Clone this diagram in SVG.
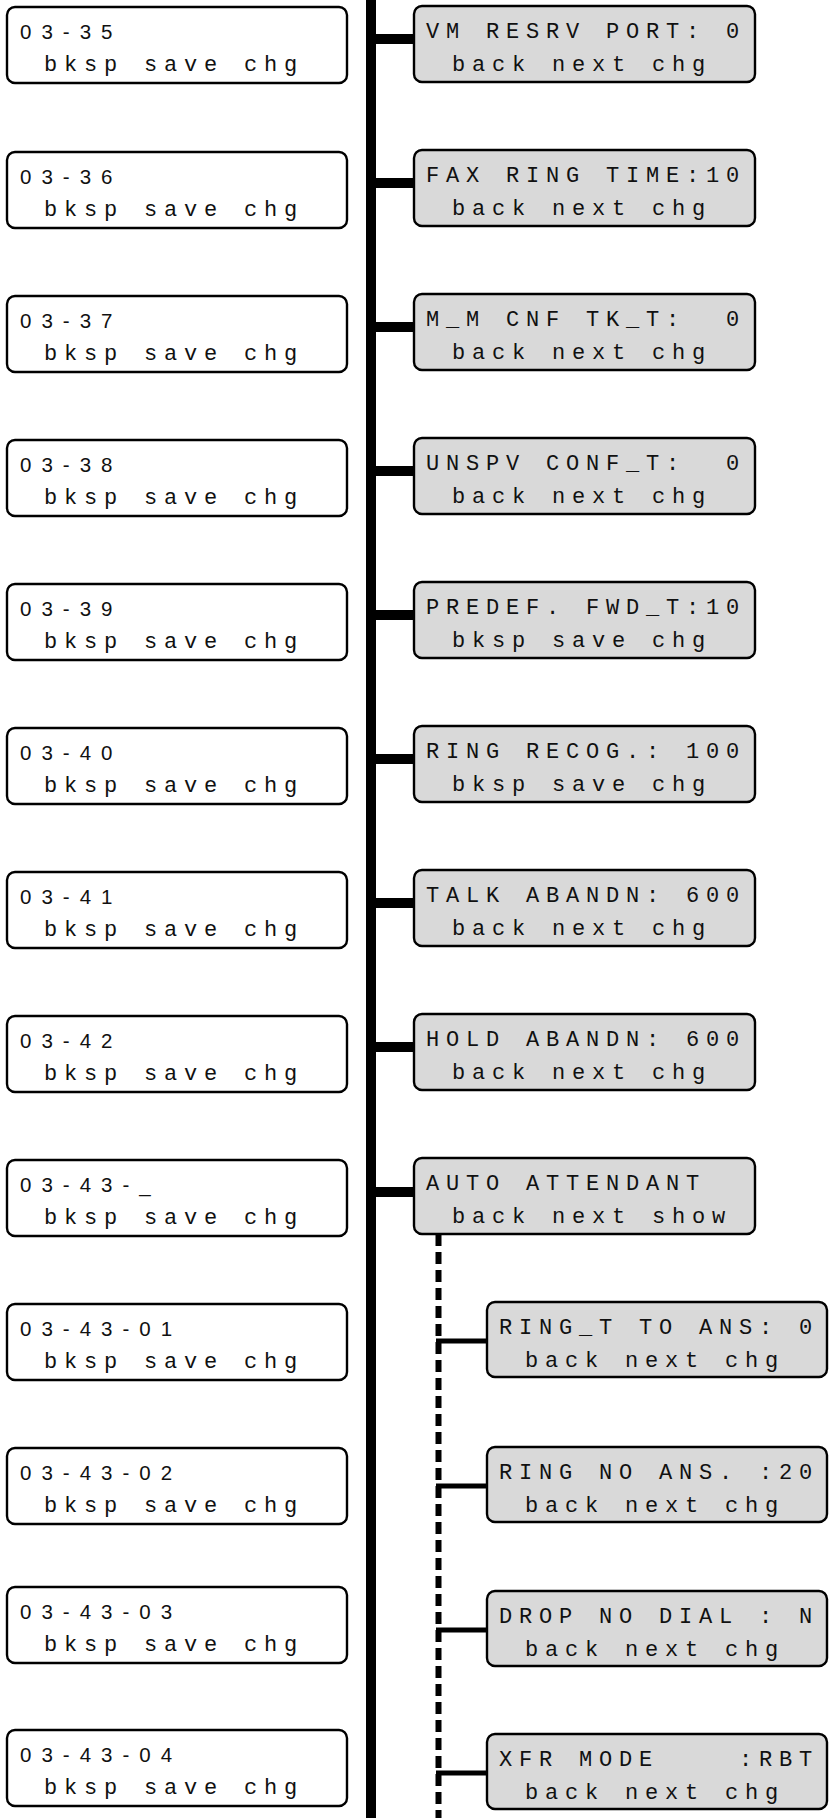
<svg xmlns="http://www.w3.org/2000/svg" width="835" height="1818" viewBox="0 0 835 1818">
<style>
.bg{fill:#ffffff}
.lbox{fill:#ffffff;stroke:#000;stroke-width:2.4}
.rbox{fill:#d9d9d9;stroke:#000;stroke-width:2.4}
.code{font-family:"Liberation Sans",Arial,sans-serif;font-size:20.5px;letter-spacing:10px;fill:#111}
.mono{font-family:"Courier New","Liberation Mono",monospace;font-size:22px;letter-spacing:6.8px;fill:#111;white-space:pre}
.main{stroke:#000;stroke-width:10;fill:none}
.stub{stroke:#000;stroke-width:10;fill:none}
.dash{stroke:#000;stroke-width:6;stroke-dasharray:12 6;fill:none}
.sub{stroke:#000;stroke-width:5;fill:none}
</style>
<rect class="bg" x="0" y="0" width="835" height="1818"/>
<g id="connectors">
<line class="main" x1="371" y1="0" x2="371" y2="1818"/>
<line class="stub" x1="371" y1="39" x2="414" y2="39"/>
<line class="stub" x1="371" y1="183" x2="414" y2="183"/>
<line class="stub" x1="371" y1="327" x2="414" y2="327"/>
<line class="stub" x1="371" y1="471" x2="414" y2="471"/>
<line class="stub" x1="371" y1="615" x2="414" y2="615"/>
<line class="stub" x1="371" y1="759" x2="414" y2="759"/>
<line class="stub" x1="371" y1="903" x2="414" y2="903"/>
<line class="stub" x1="371" y1="1047" x2="414" y2="1047"/>
<line class="stub" x1="371" y1="1192" x2="414" y2="1192"/>
<line class="dash" x1="438.5" y1="1234" x2="438.5" y2="1818"/>
<line class="sub" x1="436" y1="1341" x2="487" y2="1341"/>
<line class="sub" x1="436" y1="1486" x2="487" y2="1486"/>
<line class="sub" x1="436" y1="1630" x2="487" y2="1630"/>
<line class="sub" x1="436" y1="1773" x2="487" y2="1773"/>
</g>
<g id="n03-35"><rect class="lbox" x="7" y="7" width="340" height="76" rx="8"/><text class="code" x="20" y="39">03-35</text><text class="mono" x="44" y="71">bksp save chg</text></g>
<g id="n03-36"><rect class="lbox" x="7" y="152" width="340" height="76" rx="8"/><text class="code" x="20" y="184">03-36</text><text class="mono" x="44" y="216">bksp save chg</text></g>
<g id="n03-37"><rect class="lbox" x="7" y="296" width="340" height="76" rx="8"/><text class="code" x="20" y="328">03-37</text><text class="mono" x="44" y="360">bksp save chg</text></g>
<g id="n03-38"><rect class="lbox" x="7" y="440" width="340" height="76" rx="8"/><text class="code" x="20" y="472">03-38</text><text class="mono" x="44" y="504">bksp save chg</text></g>
<g id="n03-39"><rect class="lbox" x="7" y="584" width="340" height="76" rx="8"/><text class="code" x="20" y="616">03-39</text><text class="mono" x="44" y="648">bksp save chg</text></g>
<g id="n03-40"><rect class="lbox" x="7" y="728" width="340" height="76" rx="8"/><text class="code" x="20" y="760">03-40</text><text class="mono" x="44" y="792">bksp save chg</text></g>
<g id="n03-41"><rect class="lbox" x="7" y="872" width="340" height="76" rx="8"/><text class="code" x="20" y="904">03-41</text><text class="mono" x="44" y="936">bksp save chg</text></g>
<g id="n03-42"><rect class="lbox" x="7" y="1016" width="340" height="76" rx="8"/><text class="code" x="20" y="1048">03-42</text><text class="mono" x="44" y="1080">bksp save chg</text></g>
<g id="n03-43"><rect class="lbox" x="7" y="1160" width="340" height="76" rx="8"/><text class="code" x="20" y="1192">03-43-_</text><text class="mono" x="44" y="1224">bksp save chg</text></g>
<g id="n03-43-01"><rect class="lbox" x="7" y="1304" width="340" height="76" rx="8"/><text class="code" x="20" y="1336">03-43-01</text><text class="mono" x="44" y="1368">bksp save chg</text></g>
<g id="n03-43-02"><rect class="lbox" x="7" y="1448" width="340" height="76" rx="8"/><text class="code" x="20" y="1480">03-43-02</text><text class="mono" x="44" y="1512">bksp save chg</text></g>
<g id="n03-43-03"><rect class="lbox" x="7" y="1587" width="340" height="76" rx="8"/><text class="code" x="20" y="1619">03-43-03</text><text class="mono" x="44" y="1651">bksp save chg</text></g>
<g id="n03-43-04"><rect class="lbox" x="7" y="1730" width="340" height="76" rx="8"/><text class="code" x="20" y="1762">03-43-04</text><text class="mono" x="44" y="1794">bksp save chg</text></g>
<g id="vm-resrv"><rect class="rbox" x="414" y="6" width="341" height="76" rx="8"/><text class="mono" x="426" y="38">VM RESRV PORT: 0</text><text class="mono" x="452" y="71">back next chg</text></g>
<g id="fax-ring"><rect class="rbox" x="414" y="150" width="341" height="76" rx="8"/><text class="mono" x="426" y="182">FAX RING TIME:10</text><text class="mono" x="452" y="215">back next chg</text></g>
<g id="mm-cnf"><rect class="rbox" x="414" y="294" width="341" height="76" rx="8"/><text class="mono" x="426" y="326">M_M CNF TK_T:  0</text><text class="mono" x="452" y="359">back next chg</text></g>
<g id="unspv"><rect class="rbox" x="414" y="438" width="341" height="76" rx="8"/><text class="mono" x="426" y="470">UNSPV CONF_T:  0</text><text class="mono" x="452" y="503">back next chg</text></g>
<g id="predef"><rect class="rbox" x="414" y="582" width="341" height="76" rx="8"/><text class="mono" x="426" y="614">PREDEF. FWD_T:10</text><text class="mono" x="452" y="647">bksp save chg</text></g>
<g id="ring-recog"><rect class="rbox" x="414" y="726" width="341" height="76" rx="8"/><text class="mono" x="426" y="758">RING RECOG.: 100</text><text class="mono" x="452" y="791">bksp save chg</text></g>
<g id="talk-abandn"><rect class="rbox" x="414" y="870" width="341" height="76" rx="8"/><text class="mono" x="426" y="902">TALK ABANDN: 600</text><text class="mono" x="452" y="935">back next chg</text></g>
<g id="hold-abandn"><rect class="rbox" x="414" y="1014" width="341" height="76" rx="8"/><text class="mono" x="426" y="1046">HOLD ABANDN: 600</text><text class="mono" x="452" y="1079">back next chg</text></g>
<g id="auto-attendant"><rect class="rbox" x="414" y="1158" width="341" height="76" rx="8"/><text class="mono" x="426" y="1190">AUTO ATTENDANT</text><text class="mono" x="452" y="1223">back next show</text></g>
<g id="ring-t-to-ans"><rect class="rbox" x="487" y="1302" width="340" height="75" rx="8"/><text class="mono" x="499" y="1334">RING_T TO ANS: 0</text><text class="mono" x="525" y="1367">back next chg</text></g>
<g id="ring-no-ans"><rect class="rbox" x="487" y="1447" width="340" height="75" rx="8"/><text class="mono" x="499" y="1479">RING NO ANS. :20</text><text class="mono" x="525" y="1512">back next chg</text></g>
<g id="drop-no-dial"><rect class="rbox" x="487" y="1591" width="340" height="75" rx="8"/><text class="mono" x="499" y="1623">DROP NO DIAL : N</text><text class="mono" x="525" y="1656">back next chg</text></g>
<g id="xfr-mode"><rect class="rbox" x="487" y="1734" width="340" height="75" rx="8"/><text class="mono" x="499" y="1766">XFR MODE    :RBT</text><text class="mono" x="525" y="1799">back next chg</text></g>
</svg>
